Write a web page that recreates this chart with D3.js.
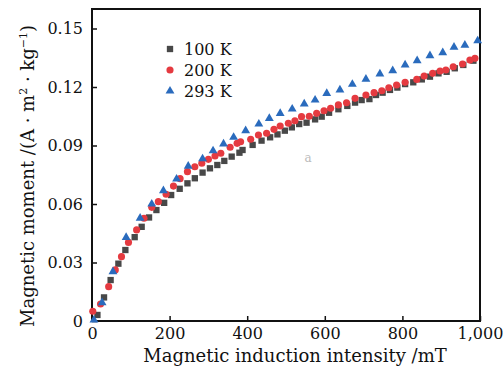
<!DOCTYPE html>
<html>
<head>
<meta charset="utf-8">
<script src="https://cdn.jsdelivr.net/npm/d3@7"></script>
<style>
  body { margin: 0; background: #fff; }
  text { font-family: "DejaVu Serif", serif; fill: #111; }
</style>
</head>
<body>
<div id="viz"></div>
<script>
const width = 504, height = 376;
const margin = {top: 9, right: 24, bottom: 55, left: 92};

// field (mT) and moment (A·m²·kg⁻¹)
const b100 = [14, 31, 48, 68, 86, 110, 128, 147, 166, 186, 204, 226, 246, 265, 285, 304, 323, 341, 360, 380, 388, 414, 437, 459, 478, 497, 515, 534, 553, 575, 592, 611, 635, 658, 678, 695, 715, 732, 749, 768, 787, 807, 828, 850, 871, 893, 914, 935, 957, 983];
const m100 = [0.0031, 0.0121, 0.0210, 0.0294, 0.0364, 0.0430, 0.0483, 0.0531, 0.0569, 0.0606, 0.0646, 0.0678, 0.0706, 0.0732, 0.0761, 0.0783, 0.0800, 0.0821, 0.0843, 0.0863, 0.0877, 0.0903, 0.0925, 0.0942, 0.0957, 0.0976, 0.0993, 0.1010, 0.1017, 0.1034, 0.1048, 0.1068, 0.1086, 0.1103, 0.1120, 0.1133, 0.1138, 0.1159, 0.1171, 0.1185, 0.1197, 0.1215, 0.1224, 0.1239, 0.1253, 0.1270, 0.1278, 0.1296, 0.1313, 0.1335];

const b200 = [2, 22, 43, 60, 76, 94, 115, 134, 154, 171, 191, 210, 227, 246, 265, 283, 300, 317, 332, 356, 374, 383, 409, 429, 450, 469, 485, 506, 523, 540, 560, 579, 598, 615, 635, 656, 678, 706, 727, 747, 765, 785, 807, 837, 856, 878, 897, 912, 931, 955, 974, 987];
const m200 = [0.0050, 0.0087, 0.0176, 0.0262, 0.0330, 0.0403, 0.0467, 0.0527, 0.0583, 0.0612, 0.0650, 0.0692, 0.0730, 0.0766, 0.0791, 0.0809, 0.0829, 0.0846, 0.0860, 0.0891, 0.0911, 0.0919, 0.0932, 0.0954, 0.0963, 0.0983, 0.1000, 0.1014, 0.1027, 0.1048, 0.1050, 0.1065, 0.1078, 0.1091, 0.1108, 0.1119, 0.1142, 0.1159, 0.1171, 0.1181, 0.1196, 0.1210, 0.1224, 0.1239, 0.1256, 0.1270, 0.1282, 0.1287, 0.1304, 0.1318, 0.1338, 0.1347];

const b293 = [5, 26, 54, 88, 124, 154, 184, 218, 248, 285, 312, 339, 365, 396, 430, 457, 485, 516, 547, 575, 605, 639, 671, 706, 742, 775, 807, 838, 871, 904, 933, 961, 994];
const m293 = [0.0005, 0.0094, 0.0253, 0.0429, 0.0527, 0.0600, 0.0668, 0.0728, 0.0794, 0.0832, 0.0873, 0.0908, 0.0942, 0.0976, 0.1010, 0.1039, 0.1065, 0.1087, 0.1113, 0.1133, 0.1167, 0.1185, 0.1214, 0.1240, 0.1267, 0.1284, 0.1313, 0.1335, 0.1361, 0.1376, 0.1404, 0.1415, 0.1437];

const seriesNames = ["100 K", "200 K", "293 K"];
const xTicks = [0, 200, 400, 600, 800, 1000];
const yTicks = [0, 0.03, 0.06, 0.09, 0.12, 0.15];

const series = [
  {name: seriesNames[0], b: b100, m: m100, shape: d3.symbolSquare, size: 40, color: "#484848"},
  {name: seriesNames[1], b: b200, m: m200, shape: d3.symbolCircle, size: 40, color: "#e53a40"},
  {name: seriesNames[2], b: b293, m: m293, shape: d3.symbolTriangle, size: 34, color: "#2a6bbd"}
];

const svg = d3.select("#viz").append("svg").attr("width", width).attr("height", height);

const x = d3.scaleLinear().domain([0, 1000]).range([margin.left, width - margin.right]);
const y = d3.scaleLinear().domain([0, 0.16]).range([height - margin.bottom, margin.top]);

svg.append("g")
  .attr("transform", `translate(0,${height - margin.bottom})`)
  .call(d3.axisBottom(x).tickValues(xTicks).tickSize(-5).tickSizeOuter(0).tickPadding(7))
  .call(g => g.select(".domain").remove())
  .call(g => g.selectAll("line").attr("stroke", "#111").attr("stroke-width", 1.5))
  .call(g => g.selectAll("text").attr("font-size", 16).attr("font-family", "DejaVu Serif"));

svg.append("g")
  .attr("transform", `translate(${margin.left},0)`)
  .call(d3.axisLeft(y).tickValues(yTicks).tickSize(-5).tickSizeOuter(0).tickPadding(9)
    .tickFormat(d => d === 0 ? "0" : d3.format(".2f")(d)))
  .call(g => g.select(".domain").remove())
  .call(g => g.selectAll("line").attr("stroke", "#111").attr("stroke-width", 1.5))
  .call(g => g.selectAll("text").attr("font-size", 16).attr("font-family", "DejaVu Serif"));

// frame
svg.append("rect")
  .attr("x", margin.left).attr("y", margin.top)
  .attr("width", width - margin.left - margin.right)
  .attr("height", height - margin.top - margin.bottom)
  .attr("fill", "none").attr("stroke", "#111").attr("stroke-width", 2);

series.forEach(s => {
  svg.append("g").selectAll("path").data(s.b.map((b, i) => [b, s.m[i]])).enter().append("path")
    .attr("transform", d => `translate(${x(d[0])},${y(d[1])})`)
    .attr("d", d3.symbol().type(s.shape).size(s.size))
    .attr("fill", s.color);
});

// legend
const legend = svg.append("g").attr("transform", "translate(170,49)");
series.forEach((s, i) => {
  legend.append("path")
    .attr("transform", `translate(0,${i * 21})`)
    .attr("d", d3.symbol().type(s.shape).size(s.size))
    .attr("fill", s.color);
  legend.append("text")
    .attr("x", 14).attr("y", i * 21 + 6)
    .attr("font-size", 16)
    .text(s.name);
});

svg.append("text")
  .attr("x", 308).attr("y", 162)
  .attr("text-anchor", "middle")
  .attr("font-size", 12)
  .style("fill", "#bbb")
  .text("a");

svg.append("text")
  .attr("x", 295).attr("y", 362)
  .attr("text-anchor", "middle")
  .attr("font-size", 18)
  .text("Magnetic induction intensity /mT");

const yl = svg.append("text")
  .attr("transform", "translate(34,176) rotate(-90)")
  .attr("text-anchor", "middle")
  .attr("font-size", 18);
yl.append("tspan").text("Magnetic moment /(A · m");
yl.append("tspan").attr("dy", -7).attr("font-size", 11).text("2");
yl.append("tspan").attr("dy", 7).text(" · kg");
yl.append("tspan").attr("dy", -7).attr("font-size", 11).text("−1");
yl.append("tspan").attr("dy", 7).text(")");
</script>
</body>
</html>
